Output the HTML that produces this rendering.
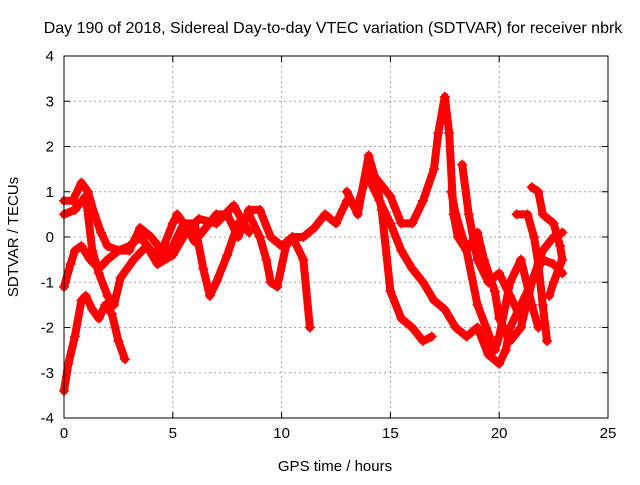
<!DOCTYPE html>
<html><head><meta charset="utf-8"><style>
html,body{margin:0;padding:0;background:#fff;}
svg text{font-family:"Liberation Sans",sans-serif;font-size:15px;fill:#000;}
</style></head><body>
<svg id="chart" width="640" height="480" xmlns="http://www.w3.org/2000/svg">
<text x="333" y="33" text-anchor="middle" style="font-size:16px">Day 190 of 2018, Sidereal Day-to-day VTEC variation (SDTVAR) for receiver nbrk</text>
<text x="335" y="471" text-anchor="middle">GPS time / hours</text>
<text transform="translate(18,237) rotate(-90)" text-anchor="middle">SDTVAR / TECUs</text>
<g id="grid"></g>
<g id="ticks"></g>
<g id="series"></g>
<rect x="64" y="56" width="544" height="362" fill="none" stroke="#000" stroke-width="1"/>
</svg>
<script>
const xTicks=[0,5,10,15,20,25];
const yTicks=[-4,-3,-2,-1,0,1,2,3,4];
const tA_h=[0,0.2,0.5,0.8,1.0,1.3,1.6,1.9,2.2,2.5,2.8];
const tA_v=[-3.4,-2.8,-2.2,-1.4,-1.3,-1.6,-1.8,-1.5,-1.7,-2.3,-2.7];
const tB_h=[0,0.3,0.5,0.8,1.2,1.6,2.0,2.5,3,3.5,4,4.5,5,5.5,6,6.4,6.7,7,7.5,8,8.5,9,9.3,9.5,9.8,10.2,10.5,11,11.3];
const tB_v=[-1.1,-0.6,-0.3,-0.2,-0.5,-0.7,-0.5,-0.3,-0.2,0.0,-0.3,-0.5,-0.2,0.3,0.3,-0.7,-1.3,-1.0,-0.4,0.3,0.5,0.0,-0.5,-1.0,-1.1,-0.2,0.0,-0.5,-2.0];
const tC_h=[0,0.4,0.8,1.1,1.4,1.7,2.0,2.5,3,3.5,4,4.5,5,5.2,5.5,6,6.5,7,7.5,8,8.5,9,9.5,10,10.5,11,11.5,12,12.5,13,13.5,14,14.5,15,15.5,16,16.5,17,17.2,17.5,17.7,17.9,18.1,18.5,19,19.4,19.8,20,20.5,21,21.5,21.8];
const tC_v=[0.8,0.8,1.2,1.0,0.5,0.1,-0.2,-0.3,-0.3,0.2,0.0,-0.3,0.3,0.5,0.3,-0.1,0.2,0.5,0.5,0.0,0.6,0.6,0.0,-0.2,0.0,0.0,0.2,0.5,0.3,0.8,0.7,1.5,1.2,0.9,0.3,0.3,0.8,1.5,2.3,3.1,2.3,0.5,0.0,-0.3,-1.5,-2.0,-2.5,-2.2,-1.0,-0.5,-1.5,-2.0];
const tD_h=[0,0.5,1.0,1.3,1.6,2.0,2.3,2.6,3.2,3.8,4.3,5,5.6,6.2,7,7.8,8.5];
const tD_v=[0.5,0.6,0.9,-0.3,-0.8,-1.3,-1.5,-0.9,-0.5,-0.2,-0.6,-0.4,0.1,0.4,0.3,0.7,0.1];
const tE_h=[13,13.5,14,14.3,14.6,15,15.5,16,16.5,16.9];
const tE_v=[1.0,0.5,1.8,1.3,0.6,-1.2,-1.8,-2.0,-2.3,-2.2];
const tF_h=[14,14.5,15,15.5,16,16.5,17,17.5,18,18.5,19,19.5,20,20.3,20.5,21,21.5,22,22.5,22.9];
const tF_v=[1.3,0.8,0.3,-0.3,-0.7,-1.0,-1.4,-1.6,-2.0,-2.2,-2.0,-2.6,-2.8,-2.5,-2.0,-1.5,-1.0,-0.3,0.0,0.1];
const tG_h=[17.8,18,18.5,19,19.3,19.8,20,20.5,21,21.5,22,22.5,22.9];
const tG_v=[1.0,0.5,-0.3,0.1,-0.5,-1.2,-1.8,-2.3,-2.0,-1.0,-0.5,-0.6,-0.8];
const tH_h=[18.3,18.6,19,19.5,20,20.5,21,21.2];
const tH_v=[1.6,0.5,-0.5,-1.0,-0.8,-1.3,-1.8,-1.5];
const tI_h=[20.8,21.3,21.6,21.8,22,22.2];
const tI_v=[0.5,0.5,0.0,-0.6,-1.5,-2.3];
const tJ_h=[21.5,21.8,22,22.5,22.8,22.9,22.5,22.3];
const tJ_v=[1.1,1.0,0.5,0.3,-0.2,-0.5,-1.0,-1.3];
const tracksH=[tA_h,tB_h,tC_h,tD_h,tE_h,tF_h,tG_h,tH_h,tI_h,tJ_h];
const tracksV=[tA_v,tB_v,tC_v,tD_v,tE_v,tF_v,tG_v,tH_v,tI_v,tJ_v];

const NS='http://www.w3.org/2000/svg';
const X0=64,X1=608,Y0=418,Y1=56;
const xs=h=>X0+(h-0)/25*(X1-X0);
const ys=v=>Y0-(v+4)/8*(Y0-Y1);
function mk(tag,at,parent){const e=document.createElementNS(NS,tag);for(const k in at)e.setAttribute(k,at[k]);parent.appendChild(e);return e;}
const grid=document.getElementById('grid'),ticks=document.getElementById('ticks'),ser=document.getElementById('series');
xTicks.forEach(t=>{
  const x=xs(t);
  if(t>0&&t<25){const g=mk('line',{x1:x,x2:x,y1:Y1,y2:Y0,stroke:'#a0a0a0','stroke-dasharray':'2,3'},grid);
  
  }
  const tk=mk('path',{d:`M${x},${Y0}v-6M${x},${Y1}v6`,stroke:'#000'},ticks);
  
  
  const tx=mk('text',{x:x,y:Y0+20,'text-anchor':'middle'},ticks);tx.textContent=t;
  
  
});
yTicks.forEach(t=>{
  const y=ys(t);
  if(t>-4&&t<4){const g=mk('line',{x1:X0,x2:X1,y1:y,y2:y,stroke:'#a0a0a0','stroke-dasharray':'2,3'},grid);
  
  }
  const tk=mk('path',{d:`M${X0},${y}h6M${X1},${y}h-6`,stroke:'#000'},ticks);
  
  
  const tx=mk('text',{x:X0-10,y:y+5,'text-anchor':'end'},ticks);tx.textContent=t;
  
  
});
tracksH.forEach((H,i)=>{
  const V=tracksV[i];
  const pts=H.map((h,j)=>xs(h)+','+ys(V[j])).join(' ');
  const pl=mk('polyline',{points:pts,fill:'none',stroke:'#ff0000','stroke-width':8,'stroke-linejoin':'round','stroke-linecap':'round'},ser);
  
  
  H.forEach((h,j)=>{
    const x=xs(h),y=ys(V[j]);
    const p=mk('path',{d:`M${x-5},${y}h10M${x},${y-5}v10`,stroke:'#ff0000','stroke-width':1.5},ser);
    
    
  });
});
</script>
</body></html>
